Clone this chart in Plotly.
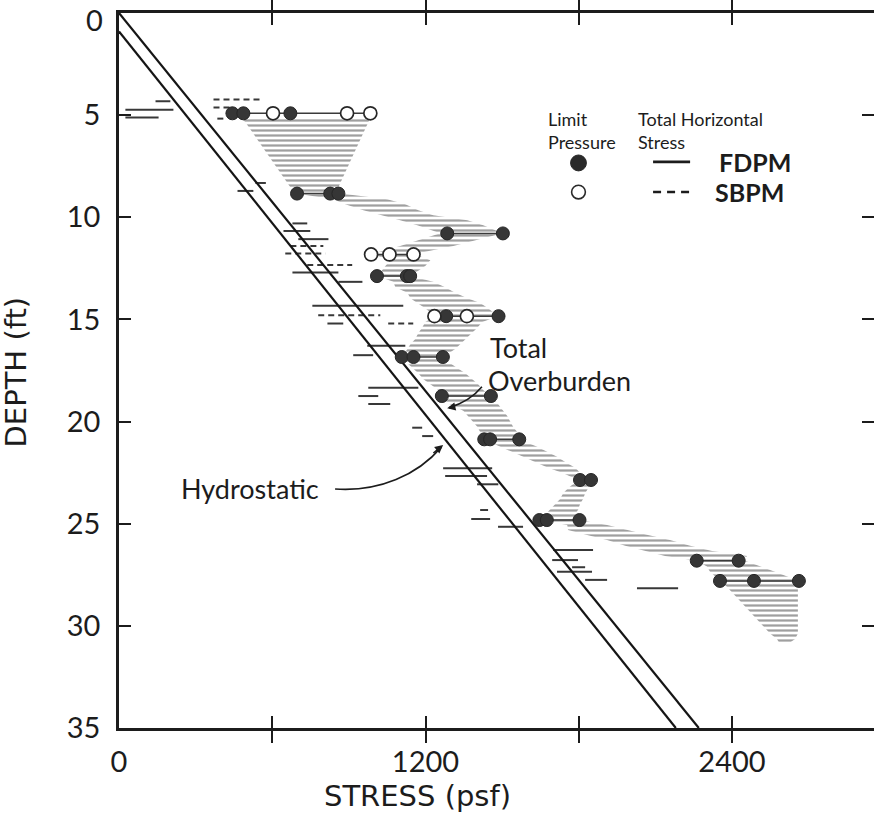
import plotly.graph_objects as go

# ---------------- data (stress in psf, depth in ft) ----------------
overburden_depth = [0, 35]
overburden_stress = [0, 2270]
hydro_depth = [0.9, 35]
hydro_stress = [0, 2180]

# Limit pressure, FDPM (filled circles)
fdpm_lp_depth = [4.91, 4.91, 4.91, 8.84, 8.84, 8.84, 10.79, 10.79, 12.88, 12.88, 12.88,
                 14.84, 14.84, 16.84, 16.84, 16.84, 18.75, 18.75, 20.87, 20.87, 20.87,
                 22.86, 22.86, 24.82, 24.82, 24.82, 26.81, 26.81, 27.80, 27.80, 27.80]
fdpm_lp_stress = [444, 487, 671, 697, 827, 859, 1285, 1503, 1010, 1127, 1140,
                  1281, 1486, 1107, 1153, 1268, 1264, 1456, 1430, 1453, 1567,
                  1805, 1848, 1646, 1675, 1803, 2262, 2426, 2353, 2486, 2662]

# Limit pressure, SBPM (open circles)
sbpm_lp_depth = [4.91, 4.91, 4.91, 11.82, 11.82, 11.82, 14.84, 14.84]
sbpm_lp_stress = [603, 893, 984, 987, 1059, 1153, 1235, 1362]

# Total horizontal stress ranges, FDPM (solid)
fdpm_sh_depth = [4.32, 4.73, 5.12, 8.32, 8.71, 10.30, 10.67, 11.07, 12.70, 13.16, 14.33,
                 15.20, 16.29, 16.75, 18.35, 18.75, 19.14, 20.30, 20.71, 22.29, 22.67,
                 23.07, 24.33, 24.77, 25.15, 26.29, 26.78, 27.13, 27.35, 27.75, 28.16]
fdpm_sh_lo = [143, 25, 25, 534, 464, 679, 644, 702, 679, 859, 757,
              816, 972, 917, 976, 937, 976, 1148, 1187, 1269, 1277,
              1402, 1414, 1379, 1484, 1700, 1696, 1774, 1715, 1825, 2028]
fdpm_sh_hi = [201, 213, 155, 575, 526, 737, 749, 820, 859, 953, 1113,
              878, 1121, 995, 1172, 1015, 1062, 1187, 1230, 1461, 1441,
              1485, 1445, 1453, 1582, 1856, 1797, 1825, 1852, 1911, 2189]

# Total horizontal stress ranges, SBPM (dashed)
sbpm_sh_depth = [4.24, 4.63, 5.17, 11.40, 11.77, 12.34, 14.79, 15.20]
sbpm_sh_lo = [370, 370, 385, 671, 651, 737, 780, 1054]
sbpm_sh_hi = [565, 444, 417, 800, 808, 913, 1023, 1152]

# Hatched band of limit pressures
band_depth = [5.10, 5.35, 8.53, 8.83, 9.12, 9.36, 9.66, 9.90, 10.14, 10.39, 10.78, 11.12,
              11.40, 11.80, 12.10, 12.39, 12.88, 13.16, 13.42, 13.70, 13.96, 14.20, 14.45,
              14.84, 15.12, 15.41, 15.67, 15.96, 16.21, 16.45, 16.84, 17.14, 17.38, 17.63,
              17.92, 18.17, 18.46, 18.79, 19.09, 19.47, 19.73, 19.98, 20.25, 20.51, 20.87,
              21.23, 21.48, 21.72, 21.98, 22.26, 22.50, 22.86, 23.27, 23.51, 23.79, 24.04,
              24.30, 24.53, 24.82, 25.06, 25.31, 25.55, 25.80, 26.08, 26.33, 26.58, 26.81,
              27.10, 27.35, 27.80, 28.08, 30.38, 30.64, 30.89]
band_left = [475, 495, 671, 694, 839, 886, 957, 1031, 1101, 1168, 1258, 1172,
             1101, 988, 1062, 1043, 1012, 1074, 1082, 1129, 1141, 1168, 1199,
             1238, 1199, 1187, 1172, 1160, 1141, 1129, 1109, 1129, 1152, 1172,
             1191, 1219, 1250, 1266, 1285, 1348, 1367, 1383, 1403, 1414, 1430,
             1493, 1539, 1582, 1629, 1680, 1735, 1798, 1758, 1739, 1727, 1708,
             1688, 1668, 1649, 1755, 1758, 1833, 1911, 1982, 2060, 2138, 2263,
             2302, 2314, 2353, 2380, 2549, 2576, 2588]
band_right = [984, 976, 859, 867, 1050, 1121, 1172, 1230, 1364, 1426, 1502, 1395,
              1309, 1156, 1219, 1199, 1141, 1230, 1277, 1316, 1364, 1414, 1445,
              1484, 1422, 1403, 1383, 1356, 1336, 1316, 1270, 1297, 1324, 1356,
              1383, 1406, 1426, 1457, 1481, 1504, 1520, 1531, 1543, 1559, 1567,
              1637, 1676, 1715, 1747, 1786, 1805, 1852, 1837, 1825, 1817, 1805,
              1798, 1786, 1803, 1911, 1989, 2071, 2157, 2236, 2322, 2459, 2451,
              2517, 2568, 2662, 2658, 2658, 2647, 2619]

x_tickvals = [0, 600, 1200, 1800, 2400]
x_ticktext = ["0", "", "1200", "", "2400"]
y_tickvals = [0, 5, 10, 15, 20, 25, 30, 35]
y_ticktext = ["", "5", "10", "15", "20", "25", "30", "35"]  # "0" drawn separately below
y_top_label = "0"

FONT = "Lato"
CAPS = "DejaVu Sans"
INK = "#1c1c1c"

fig = go.Figure()

# hatched band
fig.add_trace(go.Scatter(
    x=band_left + band_right[::-1], y=band_depth + band_depth[::-1],
    mode="lines", line=dict(width=0, color="rgba(0,0,0,0)"),
    fill="toself", fillcolor="rgba(0,0,0,0)",
    fillpattern=dict(shape="-", size=5, solidity=0.45, fgcolor="#404040",
                     bgcolor="rgba(0,0,0,0)"),
    hoverinfo="skip", showlegend=False))

# horizontal stress segments
def seg(depths, lo, hi):
    xs, ys = [], []
    for d, a, b in zip(depths, lo, hi):
        xs += [a, b, None]
        ys += [d, d, None]
    return xs, ys

xs, ys = seg(fdpm_sh_depth, fdpm_sh_lo, fdpm_sh_hi)
fig.add_trace(go.Scatter(x=xs, y=ys, mode="lines", line=dict(color="#383838", width=2),
                         hoverinfo="skip", showlegend=False))
xs, ys = seg(sbpm_sh_depth, sbpm_sh_lo, sbpm_sh_hi)
fig.add_trace(go.Scatter(x=xs, y=ys, mode="lines",
                         line=dict(color="#383838", width=2, dash="6px,4px"),
                         hoverinfo="skip", showlegend=False))

# overburden / hydrostatic lines
fig.add_trace(go.Scatter(x=overburden_stress, y=overburden_depth, mode="lines",
                         line=dict(color="#151515", width=2.2), showlegend=False))
fig.add_trace(go.Scatter(x=hydro_stress, y=hydro_depth, mode="lines",
                         line=dict(color="#151515", width=2.2), showlegend=False))

# connecting lines across each test depth
rows = {}
for d, s in list(zip(fdpm_lp_depth, fdpm_lp_stress)) + list(zip(sbpm_lp_depth, sbpm_lp_stress)):
    rows.setdefault(d, []).append(s)
xs, ys = [], []
for d, vals in rows.items():
    xs += [min(vals), max(vals), None]
    ys += [d, d, None]
fig.add_trace(go.Scatter(x=xs, y=ys, mode="lines", line=dict(color="#3a3a3a", width=1.5),
                         hoverinfo="skip", showlegend=False))

# limit pressures
fig.add_trace(go.Scatter(x=fdpm_lp_stress, y=fdpm_lp_depth, mode="markers",
                         marker=dict(size=13, color="#363636",
                                     line=dict(color="#262626", width=1)),
                         showlegend=False))
fig.add_trace(go.Scatter(x=sbpm_lp_stress, y=sbpm_lp_depth, mode="markers",
                         marker=dict(size=13, color="white",
                                     line=dict(color="#262626", width=1.7)),
                         showlegend=False))

# dummy trace for right-side tick axis
fig.add_trace(go.Scatter(x=[None], y=[None], yaxis="y2", showlegend=False, hoverinfo="skip"))

# ---------------- annotations ----------------
ann = []
def txt(x, y, t, size, xanchor="left", yanchor="middle", xref="x", yref="y", angle=0,
        family=FONT, weight="normal", xshift=0, yshift=0):
    ann.append(dict(x=x, y=y, xref=xref, yref=yref, text=t, showarrow=False,
                    xanchor=xanchor, yanchor=yanchor, textangle=angle, align="left",
                    xshift=xshift, yshift=yshift,
                    font=dict(family=family, size=size, color=INK, weight=weight)))

txt(0, 0, y_top_label, 29, xanchor="right", xref="paper", yref="y", xshift=-14, yshift=-6)
txt(1672, 5.74, "Limit<br>Pressure", 18)
txt(2025, 5.74, "Total Horizontal<br>Stress", 18)
txt(2341, 7.29, "FDPM", 25, weight="bold")
txt(2326, 8.76, "SBPM", 25, weight="bold")
txt(1445, 16.35, "Total", 27)
txt(1435, 17.98, "Overburden", 27)
txt(235, 23.3, "Hydrostatic", 27)
txt(0.396, -0.0955, "STRESS (psf)", 29, xanchor="center", xref="paper", yref="paper",
    family=CAPS)
txt(-0.137, 0.498, "DEPTH (ft)", 29, xanchor="center", xref="paper", yref="paper", angle=-90,
    family=CAPS)

# arrowheads
ann.append(dict(x=1269, y=21.15, ax=1225, ay=21.6, xref="x", yref="y", axref="x", ayref="y",
                text="", showarrow=True, arrowhead=2, arrowsize=1.1, arrowwidth=1.5,
                arrowcolor=INK))
ann.append(dict(x=1285, y=19.35, ax=1320, ay=19.25, xref="x", yref="y", axref="x", ayref="y",
                text="", showarrow=True, arrowhead=2, arrowsize=1.1, arrowwidth=1.5,
                arrowcolor=INK))

shapes = [
    # curved arrow shafts
    dict(type="path", xref="x", yref="y",
         path="M 846,23.3 C 1020,23.45 1170,22.6 1262,21.25",
         line=dict(color=INK, width=1.6)),
    dict(type="path", xref="x", yref="y",
         path="M 1421,18.30 Q 1375,19.0 1292,19.33",
         line=dict(color=INK, width=1.6)),
    # legend glyphs
    dict(type="circle", xref="x", yref="y", x0=1768, x1=1830, y0=6.95, y1=7.73,
         fillcolor="#2a2a2a", line=dict(color="#2a2a2a", width=1)),
    dict(type="circle", xref="x", yref="y", x0=1772, x1=1826, y0=8.43, y1=9.10,
         fillcolor="white", line=dict(color="#2a2a2a", width=1.6)),
    dict(type="line", xref="x", yref="y", x0=2091, x1=2236, y0=7.29, y1=7.29,
         line=dict(color=INK, width=2.8)),
    dict(type="line", xref="x", yref="y", x0=2091, x1=2236, y0=8.76, y1=8.76,
         line=dict(color=INK, width=2.5, dash="8px,6px")),
]

axis_common = dict(showgrid=False, zeroline=False, ticks="inside", ticklen=12, tickwidth=2,
                   tickcolor=INK, linecolor=INK, linewidth=2.6,
                   tickfont=dict(family=FONT, size=29, color=INK),
                   ticklabeloverflow="allow", automargin=False)

fig.update_layout(
    width=874, height=813,
    margin=dict(l=118.5, r=0, t=13, b=85, autoexpand=False),
    paper_bgcolor="white", plot_bgcolor="white",
    showlegend=False,
    xaxis=dict(range=[0, 2956], tickvals=x_tickvals, ticktext=x_ticktext,
               showline=True, mirror="allticks", ticklabelstandoff=6, **axis_common),
    yaxis=dict(range=[35, 0], tickvals=y_tickvals, ticktext=y_ticktext,
               showline=True, mirror=False, ticklabelstandoff=10, **axis_common),
    yaxis2=dict(range=[35, 0], tickvals=y_tickvals, overlaying="y", side="right",
                showline=False, showticklabels=False, showgrid=False, zeroline=False,
                ticks="inside", ticklen=12, tickwidth=2, tickcolor=INK, automargin=False),
    annotations=ann, shapes=shapes,
)

fig.write_html("out.html")
